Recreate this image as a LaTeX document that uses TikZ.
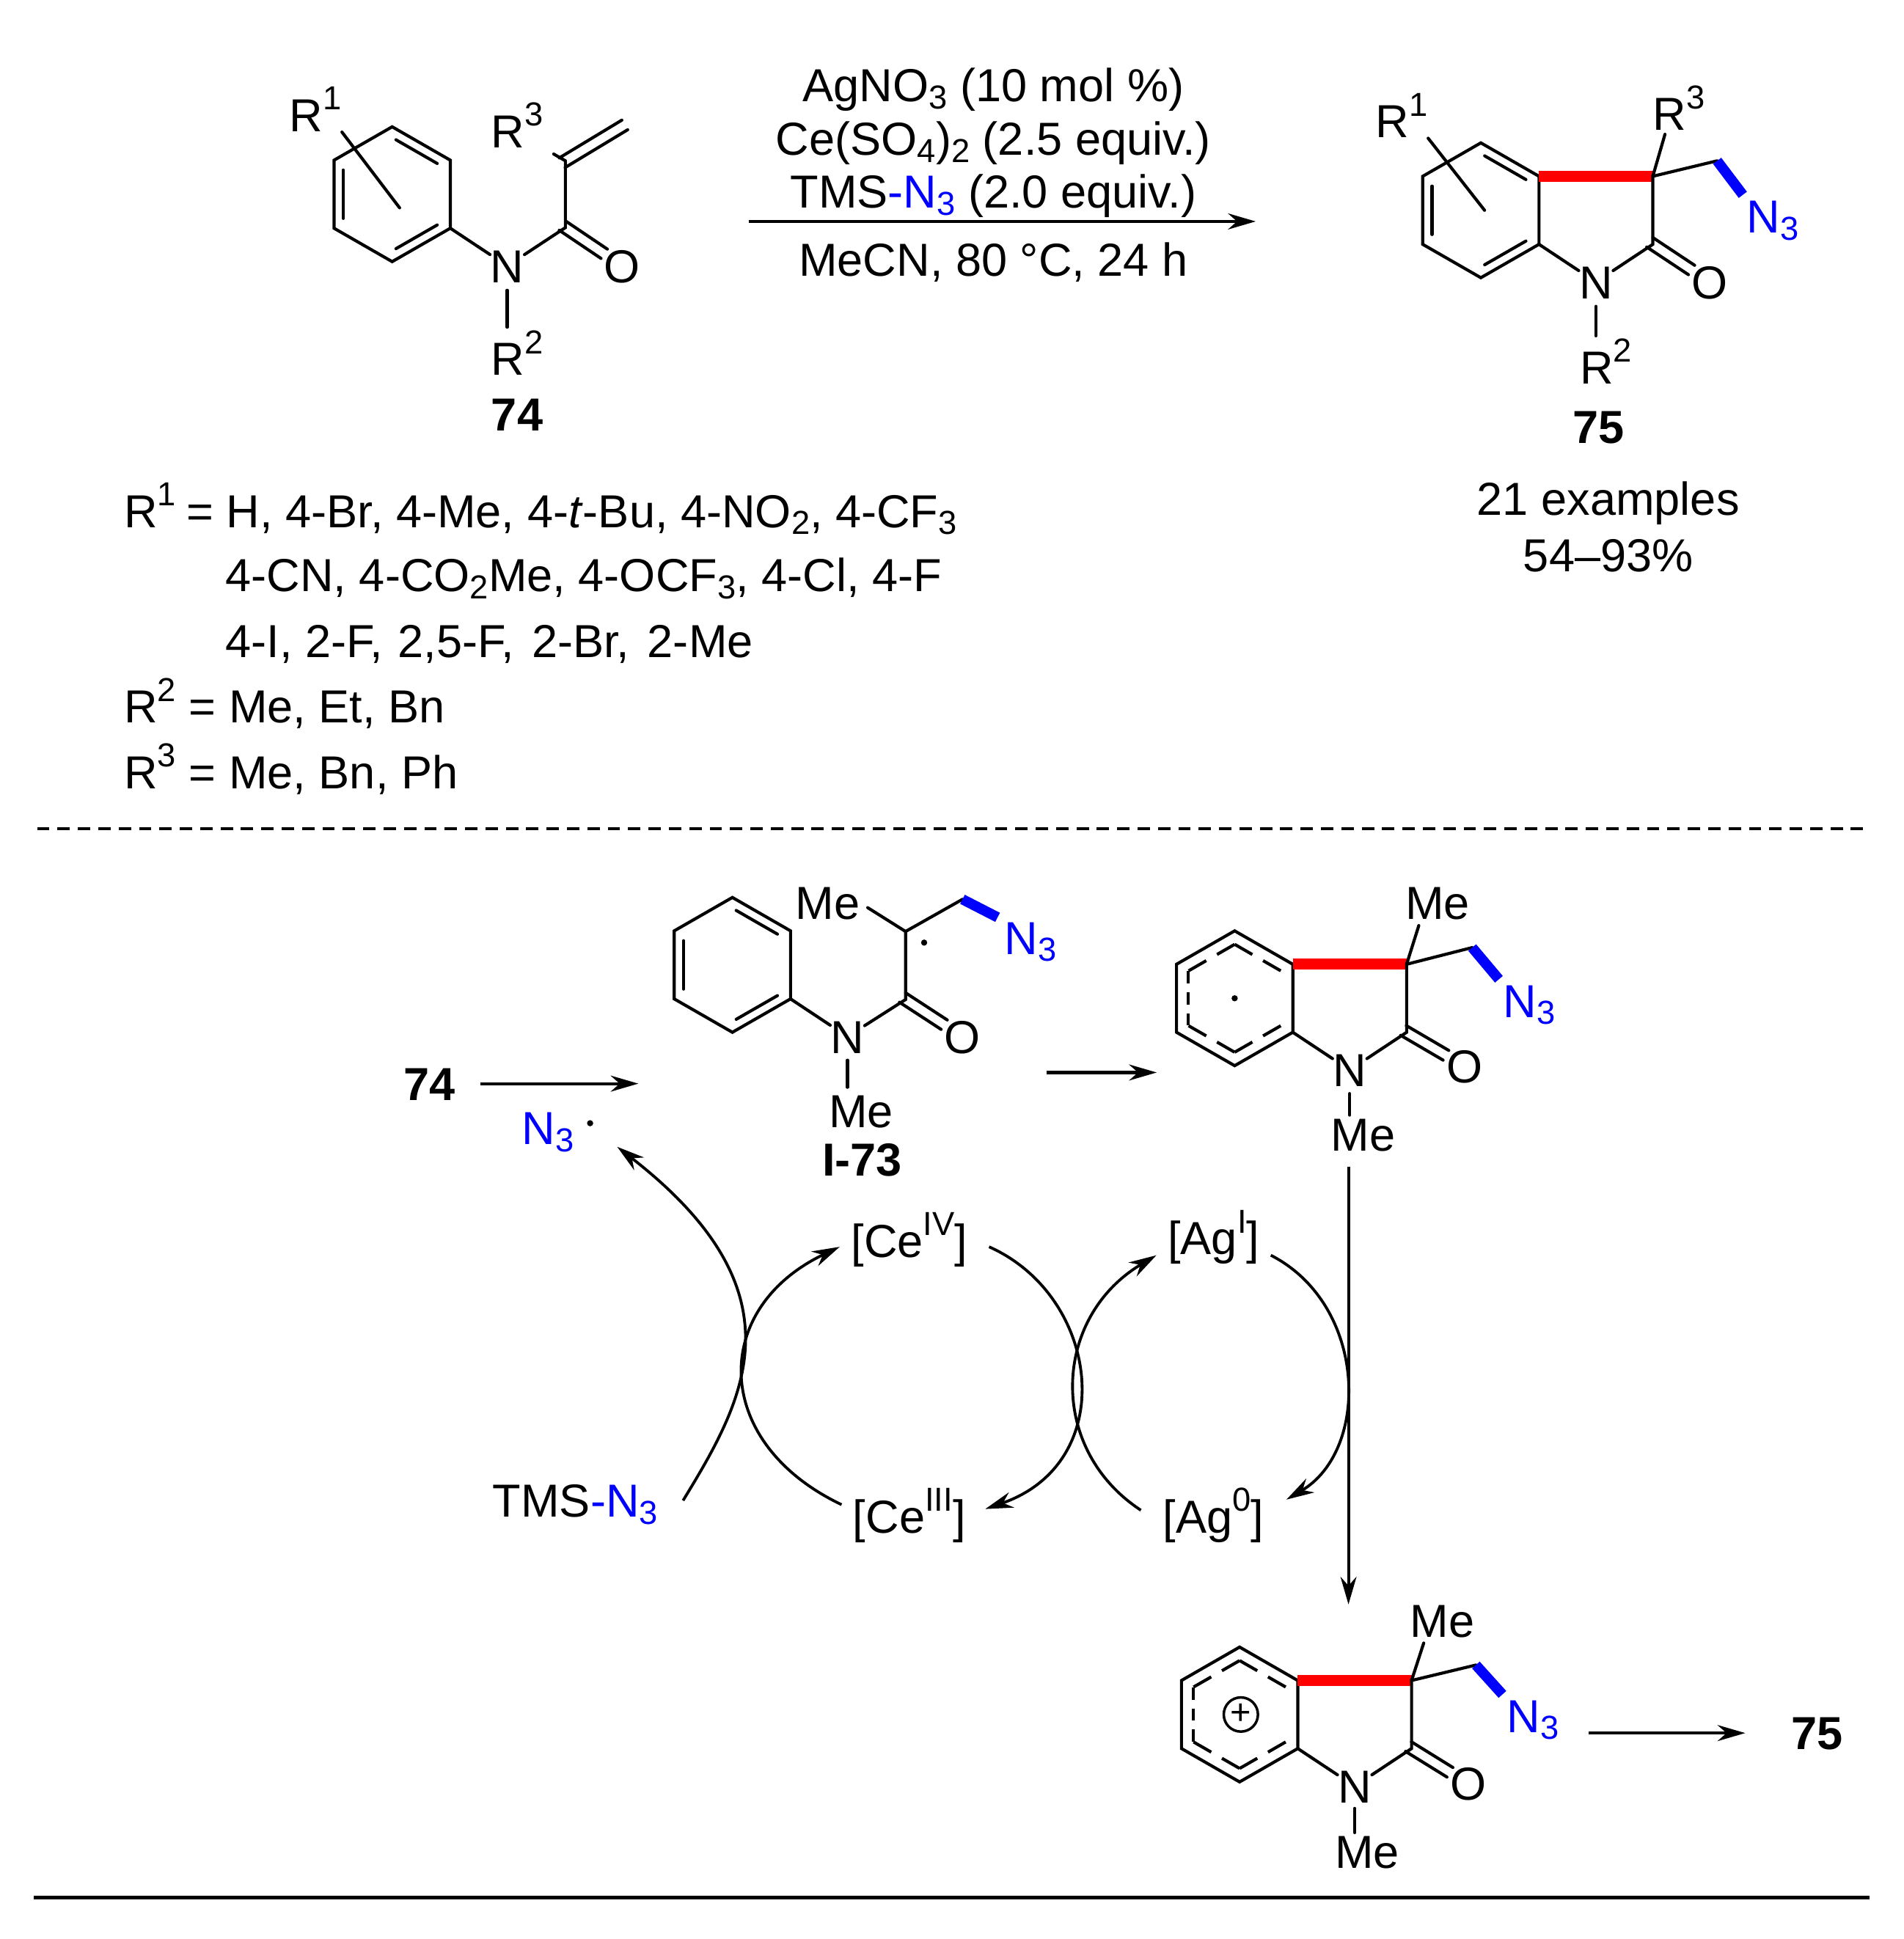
\documentclass[tikz,border=0pt]{standalone}
\usepackage{fontspec}
\setmainfont{Liberation Sans}
\usetikzlibrary{arrows.meta,calc}

\newcommand{\chemup}[1]{\raisebox{8.5pt}{\fontsize{13}{13}\selectfont #1}}
\newcommand{\chemdn}[1]{\raisebox{-2.8pt}{\fontsize{13}{13}\selectfont #1}}
\newcommand{\azide}{{\color{blue}N\chemdn{3}}}

% ring corners: name, centre x, centre y
\newcommand{\hexring}[3]{
    \coordinate (#1c) at (#2,#3);
    \coordinate (#1t) at (#2,#3-54.5);
    \coordinate (#1ur) at (#2+47,#3-27.5);
    \coordinate (#1lr) at (#2+47,#3+27.5);
    \coordinate (#1b) at (#2,#3+54.5);
    \coordinate (#1ll) at (#2-47,#3+27.5);
    \coordinate (#1ul) at (#2-47,#3-27.5);
    \draw[bond,line join=miter] (#1t) -- (#1ur) -- (#1lr) -- (#1b) -- (#1ll) -- (#1ul) -- cycle;
}
% inner line of a ring double bond
\newcommand{\inbond}[3]{
    \draw[bond,shorten <=0.06cm,shorten >=0.06cm] ($(#1c)!0.84!(#1#2)$) -- ($(#1c)!0.84!(#1#3)$);
}
\newcommand{\kekule}[1]{
    \inbond{#1}{t}{ur}
    \inbond{#1}{lr}{b}
    \inbond{#1}{ll}{ul}
}
% dashed inner ring of the radical and the cation
\newcommand{\dashring}[1]{
    \draw[dashdiag] ($(#1c)!0.8!(#1t)$) -- ($(#1c)!0.8!(#1ur)$);
    \draw[dashdiag] ($(#1c)!0.8!(#1t)$) -- ($(#1c)!0.8!(#1ul)$);
    \draw[dashvert] ($(#1c)!0.8!(#1ul)$) -- ($(#1c)!0.8!(#1ll)$);
    \draw[dashdiag] ($(#1c)!0.8!(#1b)$) -- ($(#1c)!0.8!(#1ll)$);
    \draw[dashdiag] ($(#1c)!0.8!(#1b)$) -- ($(#1c)!0.8!(#1lr)$);
}
% two lines side by side
\newcommand{\dblbond}[3][0cm]{
    \draw[bond,shorten <=-0.05cm,shorten >=#1] ($(#2)!2.2pt!90:(#3)$) -- ($(#3)!2.2pt!-90:(#2)$);
    \draw[bond,shorten <=-0.05cm,shorten >=#1] ($(#2)!2.2pt!-90:(#3)$) -- ($(#3)!2.2pt!90:(#2)$);
}

\tikzset{
    bond/.style={line width=1.2pt,line cap=round},
    dashdiag/.style={line width=1.2pt,dash pattern=on 0.28cm off 0.17cm},
    dashvert/.style={line width=1.2pt,dash pattern=on 0.17cm off 0.12cm},
    redbond/.style={line width=4.3pt,red},
    bluebond/.style={line width=4pt,blue},
    atom/.style={inner sep=0pt,text height=12.9pt,text depth=0pt},
    metal/.style={atom,inner xsep=0.15cm},
    radical/.style={circle,fill,inner sep=0pt,minimum size=0.085cm},
    rxn/.style={->,line width=1.2pt},
    curve/.style={->,line width=1.1pt},
}

\begin{document}
\begin{tikzpicture}[x=0.017cm,y=-0.017cm,
                    >={Stealth[length=0.38cm,width=0.22cm]},
                    every node/.style={font=\fontsize{18.1}{20}\selectfont}]
    \useasboundingbox (0,0) rectangle (1539,1567.5);

    % substrate
    \hexring{a}{317}{157}
    \kekule{a}
    \node[atom] (an) at (410,215) {N};
    \node[atom] (ao) at (503,215) {O};
    \node[atom] (ar1) at (255,93) {R\chemup{1}};
    \node[atom] (ar2) at (418,290) {R\chemup{2}};
    \node[atom] (ar3) at (418,106) {R\chemup{3}};
    \node[atom] (alabel) at (418,335) {\textbf{74}};
    \coordinate (acc) at (457,184);
    \coordinate (acv) at (457,130);
    \coordinate (ach) at (505,101);
    \coordinate (ar1end) at (323,168);
    \draw[bond] (alr) -- (an);
    \draw[bond] (an) -- (acc) -- (acv);
    \dblbond[0.3cm]{acc}{ao}
    \dblbond{acv}{ach}
    \draw[bond,shorten >=0.16cm] (acv) -- (ar3.south east);
    \draw[bond] (ar1.south east) -- (ar1end);
    \draw[bond,shorten <=0.1cm,shorten >=0.2cm] (an.south) -- (an.south |- ar2.north);

    % conditions
    \node[atom] (cond1) at (803,69) {AgNO\chemdn{3} (10 mol \%)};
    \node[atom] (cond2) at (803,112) {Ce(SO\chemdn{4})\chemdn{2} (2.5 equiv.)};
    \node[atom] (cond3) at (803,155) {TMS{\color{blue}-}\azide{} (2.0 equiv.)};
    \node[atom] (cond4) at (803,210) {MeCN, 80 °C, 24 h};
    \coordinate (arrowa) at (605,179);
    \coordinate (arrowb) at (1015,179);
    \draw[rxn] (arrowa) -- (arrowb);

    % product
    \hexring{b}{1197}{170}
    \kekule{b}
    \coordinate (bc3) at (1336,142.5);
    \coordinate (bc2) at (1336,197.5);
    \coordinate (bch) at (1388,130);
    \coordinate (br1end) at (1200,170);
    \node[atom] (bn) at (1290,228) {N};
    \node[atom] (bo) at (1382,228) {O};
    \node[atom] (br1) at (1133,98) {R\chemup{1}};
    \node[atom] (br2) at (1298,297) {R\chemup{2}};
    \node[atom] (br3) at (1357,92) {R\chemup{3}};
    \node[atom] (bn3) at (1433,175) {\azide};
    \node[atom] (blabel) at (1292,345) {\textbf{75}};
    \draw[redbond] (bur) -- (bc3);
    \draw[bond] (blr) -- (bn);
    \draw[bond] (bn) -- (bc2) -- (bc3) -- (bch);
    \dblbond[0.3cm]{bc2}{bo}
    \draw[bond,shorten >=0.05cm] (bc3) -- (br3.233);
    \draw[bluebond,shorten >=0.08cm] (bch) -- (bn3.north west);
    \draw[bond] (br1.south east) -- (br1end);
    \draw[bond,shorten <=0.1cm,shorten >=0.2cm] (bn.south) -- (bn.south |- br2.north);
    \node[atom] (yield1) at (1300,403) {21 examples};
    \node[atom] (yield2) at (1300,449) {54–93\%};

    % substituents
    \node[atom,anchor=west] (sub1) at (100,413) {R\chemup{1}\hspace{-1pt} = H, 4-Br, 4-Me, 4-\textit{t}-Bu, 4-NO\chemdn{2}, 4-CF\chemdn{3}};
    \node[atom,anchor=west] (sub2) at (182,465) {4-CN, 4-CO\chemdn{2}Me, 4-OCF\chemdn{3}, 4-Cl, 4-F};
    \node[atom,anchor=west] (sub3) at (182,518) {4-I, 2-F,\hspace{1pt} 2,5-F,\hspace{2pt} 2-Br,\hspace{2pt} 2-Me};
    \node[atom,anchor=west] (sub4) at (100,571) {R\chemup{2} = Me, Et, Bn};
    \node[atom,anchor=west] (sub5) at (100,624) {R\chemup{3} = Me, Bn, Ph};

    \coordinate (rulea) at (30,670);
    \coordinate (ruleb) at (1511,670);
    \draw[line width=1.1pt,dash pattern=on 0.17cm off 0.11cm] (rulea) -- (ruleb);
    \coordinate (rulec) at (27,1534);
    \coordinate (ruled) at (1511,1534);
    \draw[line width=1.3pt] (rulec) -- (ruled);

    % radical I-73
    \hexring{c}{592}{780}
    \kekule{c}
    \coordinate (ccc) at (732,808);
    \coordinate (ccv) at (732,753);
    \coordinate (cch) at (778,727);
    \node[atom] (cn) at (685,838) {N};
    \node[atom] (co) at (778,838) {O};
    \node[atom] (cme1) at (669,730) {Me};
    \node[atom] (cme2) at (696,898) {Me};
    \node[atom] (cn3) at (833,758) {\azide};
    \node[atom] (clabel) at (697,937) {\textbf{I-73}};
    \node[radical] (cdot) at (747,762) {};
    \draw[bond] (clr) -- (cn);
    \draw[bond] (cn) -- (ccc) -- (ccv) -- (cch);
    \draw[bond,shorten >=0.12cm] (ccv) -- (cme1.east);
    \dblbond[0.3cm]{ccc}{co}
    \draw[bluebond,shorten >=0.1cm] (cch) -- (cn3.north west);
    \draw[bond,shorten <=0.09cm,shorten >=0.09cm] (cn.south) -- (cn.south |- cme2.north);

    % cyclised radical
    \hexring{d}{998}{807}
    \dashring{d}
    \coordinate (dc3) at (1137,779.5);
    \coordinate (dc2) at (1137,834.5);
    \coordinate (dch) at (1190,766);
    \node[atom] (dn) at (1091,865) {N};
    \node[atom] (do) at (1184,862) {O};
    \node[atom] (dme1) at (1162,730) {Me};
    \node[atom] (dme2) at (1102,917) {Me};
    \node[atom] (dn3) at (1236,809) {\azide};
    \node[radical] (ddot) at (998,807) {};
    \draw[redbond] (dur) -- (dc3);
    \draw[bond] (dlr) -- (dn);
    \draw[bond] (dn) -- (dc2) -- (dc3) -- (dch);
    \dblbond[0.3cm]{dc2}{do}
    \draw[bond,shorten >=0.08cm] (dc3) -- (dme1.225);
    \draw[bluebond,shorten >=0.08cm] (dch) -- (dn3.north west);
    \draw[bond,shorten <=0.09cm,shorten >=0.03cm] (dn.south) -- (dn.south |- dme2.north);

    % cation
    \hexring{e}{1002}{1386}
    \dashring{e}
    \coordinate (ec3) at (1141,1358.5);
    \coordinate (ec2) at (1141,1413.5);
    \coordinate (ech) at (1193,1346);
    \node[atom] (en) at (1095,1444) {N};
    \node[atom] (eo) at (1187,1442) {O};
    \node[atom] (eme1) at (1166,1310) {Me};
    \node[atom] (eme2) at (1105,1497) {Me};
    \node[atom] (en3) at (1239,1387) {\azide};
    \node[circle,draw,line width=1pt,inner sep=0pt,minimum size=0.47cm,font=\fontsize{14}{14}\selectfont] (eplus) at (1003,1386) {+};
    \draw[redbond] (eur) -- (ec3);
    \draw[bond] (elr) -- (en);
    \draw[bond] (en) -- (ec2) -- (ec3) -- (ech);
    \dblbond[0.3cm]{ec2}{eo}
    \draw[bond,shorten >=0.08cm] (ec3) -- (eme1.225);
    \draw[bluebond,shorten >=0.08cm] (ech) -- (en3.north west);
    \draw[bond,shorten <=0.07cm,shorten >=0.03cm] (en.south) -- (en.south |- eme2.north);

    % mechanism
    \node[atom] (start) at (347,876) {\textbf{74}};
    \node[atom] (azrad) at (443,912) {\azide};
    \node[radical] (azdot) at (477,908) {};
    \node[atom] (end) at (1469,1401) {\textbf{75}};
    \node[atom,inner xsep=0.34cm] (tms) at (465,1213) {TMS{\color{blue}-}\azide};
    \node[metal] (ceiv) at (735,1003) {[Ce\chemup{IV}]};
    \node[metal] (ceiii) at (735,1226) {[Ce\chemup{III}]};
    \node[metal] (agi) at (981,1001) {[Ag\chemup{I}]};
    \node[metal,inner xsep=0.3cm] (ag0) at (981,1226) {[Ag\chemup{0}]};

    \coordinate (intoc) at (516,876);
    \draw[rxn,shorten <=0.34cm] (start) -- (intoc);
    \coordinate (cout) at (846,867);
    \coordinate (din) at (935,867);
    \draw[rxn] (cout) -- (din);
    \coordinate (eout) at (1284,1401);
    \draw[rxn,shorten >=0.63cm] (eout) -- (end.west);
    \coordinate (dout) at (1090,943);
    \coordinate (ein) at (1090,1297);
    \draw[curve] (dout) -- (ein);

    \draw[curve] (tms.east) .. controls +(50,-82) and +(152,118) .. ([xshift=0.95cm,yshift=-0.49cm]azrad.north);
    \draw[curve] (ceiii.170) .. controls +(-105,-50) and +(-105,50) .. (ceiv.185);
    \draw[curve,shorten >=0.12cm] ([xshift=0.14cm]ceiv.-5) .. controls +(90,40) and +(116,-40) .. (ceiii.4);
    \draw[curve] (ag0.175) .. controls +(-76,-50) and +(-84,50) .. (agi.south west);
    \draw[curve] (agi.south east) .. controls +(78,40) and +(68,-40) .. (ag0.north east);
\end{tikzpicture}
\end{document}
